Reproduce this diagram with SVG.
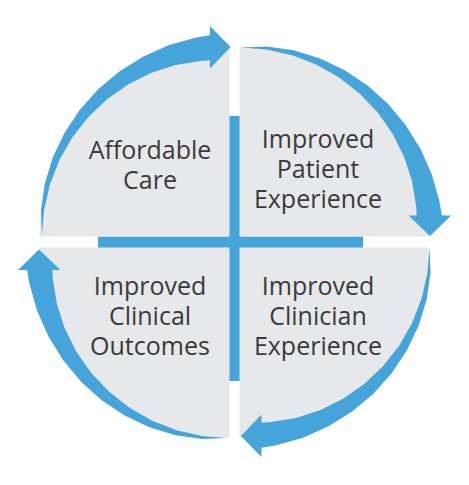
<svg xmlns="http://www.w3.org/2000/svg" xmlns:xlink="http://www.w3.org/1999/xlink" width="469" height="485" viewBox="0 0 469 485">
  <style>
    .quad { fill: #e7e8ea; }
    .blue { fill: #45a4da; }
    .label { font-family: "Open Sans", "Noto Sans", "Liberation Sans", sans-serif; font-size: 25px; fill: #3a3a3a; text-anchor: middle; }
  </style>
  <defs>
    <path id="arrow" class="blue" d="M1.65,-189.5 L26.78,-190.55 L53.52,-186.66 L79.56,-178.70 L104.32,-166.94 L127.26,-151.66 L147.89,-133.16 L165.79,-111.83 L180.57,-88.07 L191.90,-62.35 L199.53,-35.18 L201.85,-21.57 L211,-21.5 L190,-1 L168.5,-21.5 L176.70,-21.51 L176.11,-31.05 L172.01,-55.89 L164.18,-80.08 L152.77,-103.04 L137.97,-124.23 L120.09,-143.12 L99.51,-159.26 L76.69,-172.24 L52.12,-181.75 L26.36,-187.55 Z"/>
  </defs>
  <rect width="469" height="485" fill="#ffffff"/>

  <g id="cross">
    <rect class="blue" x="229" y="116" width="11.5" height="265"/>
    <rect class="blue" x="98" y="236.5" width="265" height="11.5"/>
  </g>

  <g id="node-affordable-care">
    <path class="quad" d="M229.5,236.5 L39.5,236.5 A190,190 0 0 1 229.5,46.5 Z"/>
    <text class="label" x="150" y="159">Affordable<tspan x="150" dy="30">Care</tspan></text>
  </g>
  <g id="node-patient-experience">
    <path class="quad" d="M239.5,236.5 L239.5,46.5 A190,190 0 0 1 429.5,236.5 Z"/>
    <text class="label" x="318" y="148">Improved<tspan x="318" dy="30">Patient</tspan><tspan x="318" dy="30">Experience</tspan></text>
  </g>
  <g id="node-clinician-experience">
    <path class="quad" d="M239.5,247.5 L429.5,247.5 A190,190 0 0 1 239.5,437.5 Z"/>
    <text class="label" x="318" y="295">Improved<tspan x="318" dy="30">Clinician</tspan><tspan x="318" dy="30">Experience</tspan></text>
  </g>
  <g id="node-clinical-outcomes">
    <path class="quad" d="M229.5,247.5 L229.5,437.5 A190,190 0 0 1 39.5,247.5 Z"/>
    <text class="label" x="150" y="295">Improved<tspan x="150" dy="30">Clinical</tspan><tspan x="150" dy="30">Outcomes</tspan></text>
  </g>

  <g id="connectors">
    <use xlink:href="#arrow" href="#arrow" transform="translate(231.5,237) rotate(-90)"/>
    <use xlink:href="#arrow" href="#arrow" transform="translate(240,237)"/>
    <use xlink:href="#arrow" href="#arrow" transform="translate(240,246) rotate(90)"/>
    <use xlink:href="#arrow" href="#arrow" transform="translate(229,248.5) rotate(180)"/>
  </g>
</svg>
